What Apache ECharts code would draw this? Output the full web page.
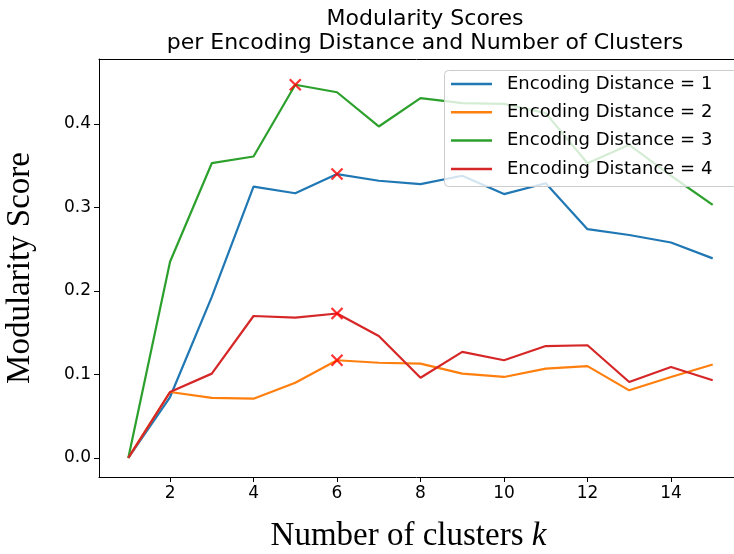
<!DOCTYPE html>
<html>
<head>
<meta charset="utf-8">
<script src="https://cdn.jsdelivr.net/npm/echarts@6/dist/echarts.min.js"></script>
<style>
html,body{margin:0;padding:0;background:#fff;}
#chart{width:734px;height:554px;}
</style>
</head>
<body>
<div id="chart"></div>
<script>
// ---- data ----
const kValues = [1, 2, 3, 4, 5, 6, 7, 8, 9, 10, 11, 12, 13, 14, 15];
const xTicks = [2, 4, 6, 8, 10, 12, 14];
const yTicks = [0, 0.1, 0.2, 0.3, 0.4];
const seriesNames = [
  'Encoding Distance = 1',
  'Encoding Distance = 2',
  'Encoding Distance = 3',
  'Encoding Distance = 4'
];
const ed1 = [0, 0.073, 0.193, 0.325, 0.317, 0.340, 0.332, 0.328, 0.338, 0.316, 0.329, 0.274, 0.267, 0.258, 0.239];
const ed2 = [0, 0.079, 0.072, 0.071, 0.090, 0.117, 0.114, 0.113, 0.101, 0.097, 0.107, 0.110, 0.081, 0.097, 0.112];
const ed3 = [0, 0.235, 0.353, 0.361, 0.447, 0.438, 0.397, 0.431, 0.425, 0.424, 0.413, 0.353, 0.375, 0.338, 0.303];
const ed4 = [0, 0.079, 0.101, 0.170, 0.168, 0.173, 0.146, 0.096, 0.127, 0.117, 0.134, 0.135, 0.091, 0.109, 0.093];
const colors = ['#1f77b4', '#ff7f0e', '#2ca02c', '#d62728'];

const allSeries = [ed1, ed2, ed3, ed4];

function pairs(vals) { return vals.map((v, i) => [kValues[i], v]); }

// best point of each series (marked with a red x)
const bestPoints = allSeries.map(vals => {
  let bi = 0;
  vals.forEach((v, i) => { if (v > vals[bi]) bi = i; });
  return [kValues[bi], vals[bi]];
});

const lineSeries = allSeries.map((vals, i) => ({
  name: seriesNames[i],
  type: 'line',
  data: pairs(vals),
  symbol: 'none',
  lineStyle: { color: colors[i], width: 2.2 },
  itemStyle: { color: colors[i] },
  z: 2 + i * 0.1,
  silent: true
}));

const X_MIN = 0.298, X_MAX = 15.51;

const chart = echarts.init(document.getElementById('chart'), null, { renderer: 'canvas' });
chart.setOption({
  animation: false,
  backgroundColor: '#fff',
  title: {
    text: 'Modularity Scores\nper Encoding Distance and Number of Clusters',
    left: 420, top: 2,
    textAlign: 'center',
    textStyle: { fontFamily: 'DejaVu Sans', fontSize: 22, fontWeight: 'normal', color: '#000', lineHeight: 24 }
  },
  // legend frame (extends past the right edge of the picture, as in the reference)
  graphic: [{
    type: 'rect',
    z: 3,
    silent: true,
    shape: { x: 444.5, y: 70.5, width: 320, height: 116, r: 4 },
    style: { fill: 'rgba(255,255,255,0.8)', stroke: '#cccccc', lineWidth: 1 }
  }],
  legend: {
    data: seriesNames,
    orient: 'vertical',
    left: 444, top: 70,
    icon: 'rect',
    itemWidth: 41, itemHeight: 2.5,
    itemGap: 8.3,
    padding: [4, 10, 8, 7],
    backgroundColor: 'transparent',
    borderWidth: 0,
    z: 4,
    textStyle: { fontFamily: 'DejaVu Sans', fontSize: 18, color: '#000', lineHeight: 20, padding: [0, 0, 0, 10] }
  },
  grid: {
    left: 99, top: 59, bottom: 77, right: 0,
    outerBoundsMode: 'none',
    containLabel: false,
    show: false
  },
  xAxis: [{
    type: 'value', min: X_MIN, max: X_MAX,
    axisLine: { show: true, onZero: false, lineStyle: { color: '#000', width: 1 } },
    axisTick: { show: true, customValues: xTicks, length: 5, lineStyle: { color: '#000', width: 1 } },
    axisLabel: { customValues: xTicks, fontFamily: 'DejaVu Sans', fontSize: 17, color: '#000', margin: 8 },
    splitLine: { show: false },
    name: '{n|Number of clusters }{k|k}',
    nameLocation: 'middle', nameGap: 43,
    nameTextStyle: {
      padding: [0, 16, 0, 0],
      rich: {
        n: { fontFamily: 'Liberation Serif', fontSize: 33, color: '#000' },
        k: { fontFamily: 'Liberation Serif', fontStyle: 'italic', fontSize: 33, color: '#000' }
      }
    }
  }, {
    type: 'value', position: 'top', min: X_MIN, max: X_MAX,
    axisLine: { show: true, onZero: false, lineStyle: { color: '#000', width: 1 } },
    axisTick: { show: false }, axisLabel: { show: false }, splitLine: { show: false }
  }],
  yAxis: {
    type: 'value', min: -0.0228, max: 0.4778,
    axisLine: { show: true, onZero: false, lineStyle: { color: '#000', width: 1 } },
    axisTick: { show: true, customValues: yTicks, length: 5, lineStyle: { color: '#000', width: 1 } },
    axisLabel: { customValues: yTicks, fontFamily: 'DejaVu Sans', fontSize: 17, color: '#000', margin: 8,
      formatter: v => Number(v).toFixed(1) },
    splitLine: { show: false },
    name: 'Modularity Score',
    nameLocation: 'middle', nameGap: 62,
    nameTextStyle: { fontFamily: 'Liberation Serif', fontSize: 33, color: '#000' }
  },
  series: lineSeries.concat([{
    name: 'best',
    type: 'scatter',
    data: bestPoints,
    symbol: 'path://M0,0L10,10M10,0L0,10',
    symbolSize: 11,
    itemStyle: { color: 'rgba(0,0,0,0)', borderColor: '#ff0000', borderWidth: 2.2 },
    z: 5,
    silent: true
  }])
});
</script>
</body>
</html>
